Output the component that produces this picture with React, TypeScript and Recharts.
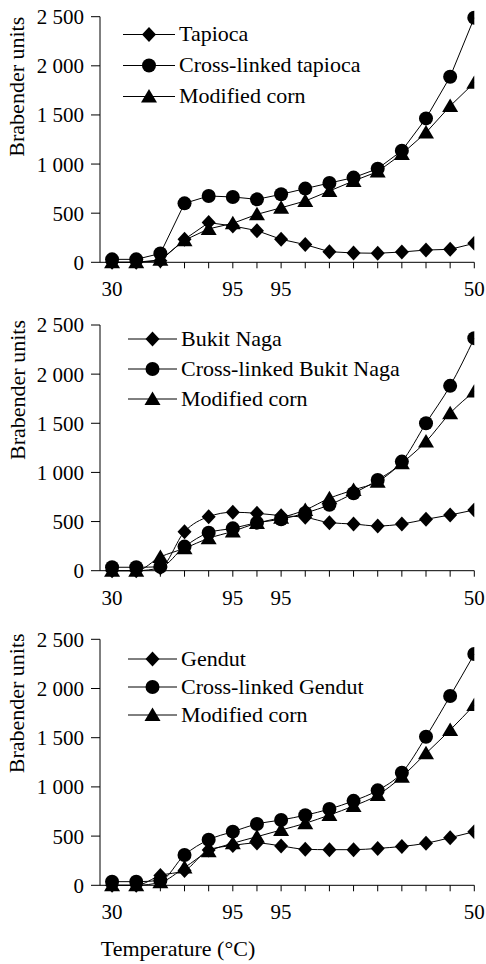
import { LineChart, Line, XAxis, YAxis, Legend, Label } from 'recharts';

const FONT = '"Liberation Serif", "Times New Roman", serif';

// x positions are reading indices; only four of them carry a printed label
const xTicks = [0, 1, 2, 3, 4, 5, 6, 7, 8, 9, 10, 11, 12, 13, 14, 15];
const xTickLabels = ['30', '', '', '', '', '95', '', '95', '', '', '', '', '', '', '', '50'];
const yTicks = [0, 500, 1000, 1500, 2000, 2500];

// panel 1
const tapioca = [0, 0, 15, 234, 404, 370, 322, 234, 180, 108, 95, 92, 105, 125, 132, 193];
const crossTapioca = [30, 30, 90, 600, 675, 665, 641, 692, 750, 807, 862, 953, 1136, 1465, 1889, 2490];
const cornA = [0, 0, 25, 225, 340, 397, 488, 555, 624, 726, 828, 923, 1103, 1320, 1591, 1828];

// panel 2
const bukitNaga = [0, 0, 30, 397, 550, 595, 584, 560, 543, 489, 475, 455, 475, 523, 567, 618];
const crossBukitNaga = [35, 35, 40, 245, 387, 431, 489, 523, 587, 670, 788, 924, 1110, 1501, 1881, 2366];
const cornB = [0, 0, 140, 228, 330, 400, 485, 540, 618, 737, 822, 906, 1094, 1314, 1603, 1823];

// panel 3
const gendut = [0, 0, 100, 150, 360, 405, 430, 400, 366, 362, 362, 375, 395, 427, 484, 545];
const crossGendut = [37, 37, 50, 308, 463, 545, 623, 664, 712, 775, 858, 965, 1144, 1510, 1924, 2350];
const cornC = [0, 0, 30, 180, 345, 427, 494, 562, 630, 714, 806, 917, 1104, 1341, 1578, 1832];

type Shape = 'diamond' | 'circle' | 'triangle';

function Marker({ shape, cx, cy }: { shape: Shape; cx?: number; cy?: number }) {
  if (cx == null || cy == null) return null;
  if (shape === 'circle') return <circle cx={cx} cy={cy} r={7} fill="#000" />;
  if (shape === 'diamond')
    return <polygon points={`${cx},${cy - 7.5} ${cx + 7},${cy} ${cx},${cy + 7.5} ${cx - 7},${cy}`} fill="#000" />;
  return <polygon points={`${cx},${cy - 7.5} ${cx + 8},${cy + 6} ${cx - 8},${cy + 6}`} fill="#000" />;
}

function thousands(v: number) {
  if (v < 1000) return String(v);
  return `${Math.floor(v / 1000)} ${String(v % 1000).padStart(3, '0')}`;
}

interface PanelProps {
  top: number;
  height: number;
  marginTop: number;
  marginBottom: number;
  names: string[];
  series: number[][];
  curve: 'linear' | 'monotone';
  legendTop: number;
  legendLeft: number;
  rowH: number;
  lineW: number;
  yLabelOffset: number;
  xLabel?: string;
}

const shapes: Shape[] = ['diamond', 'circle', 'triangle'];

function Panel(p: PanelProps) {
  const data = xTicks.map((i, k) => ({ i, a: p.series[0][k], b: p.series[1][k], c: p.series[2][k] }));
  const keys = ['a', 'b', 'c'];

  const legend = () => (
    <div style={{ fontFamily: FONT, fontSize: 22, color: '#000' }}>
      {p.names.map((name, k) => (
        <div key={name} style={{ display: 'flex', alignItems: 'center', height: p.rowH, whiteSpace: 'nowrap' }}>
          <svg width={p.lineW} height={p.rowH}>
            <line x1={0} x2={p.lineW} y1={p.rowH / 2} y2={p.rowH / 2} stroke="#000" strokeWidth={1} />
            <Marker shape={shapes[k]} cx={p.lineW / 2} cy={p.rowH / 2} />
          </svg>
          <span style={{ marginLeft: 4 }}>{name}</span>
        </div>
      ))}
    </div>
  );

  return (
    <div style={{ position: 'absolute', top: p.top, left: 0 }}>
      <LineChart
        width={486}
        height={p.height}
        data={data}
        margin={{ top: p.marginTop, right: 11.7, bottom: p.marginBottom, left: 0 }}
      >
        <XAxis
          type="number"
          dataKey="i"
          domain={[-0.5, 15]}
          ticks={xTicks}
          interval={0}
          allowDataOverflow
          tickFormatter={(v: number) => xTickLabels[v] ?? ''}
          height={40}
          tickSize={6}
          tickMargin={13}
          axisLine={{ stroke: '#000' }}
          tickLine={{ stroke: '#000' }}
          tick={{ fill: '#000', fontSize: 21, fontFamily: FONT }}
        >
          {p.xLabel && (
            <Label
              content={() => (
                <text x={178} y={p.height - 16} textAnchor="middle" dominantBaseline="central" fontSize={22} fontFamily={FONT} fill="#000">
                  {p.xLabel}
                </text>
              )}
            />
          )}
        </XAxis>
        <YAxis
          type="number"
          domain={[0, 2500]}
          ticks={yTicks}
          interval={0}
          width={100}
          tickSize={9}
          tickMargin={7}
          tickFormatter={thousands}
          axisLine={{ stroke: '#000' }}
          tickLine={{ stroke: '#000' }}
          tick={{ fill: '#000', fontSize: 21, fontFamily: FONT }}
        >
          <Label
            content={() => (
              <text
                x={17}
                y={p.marginTop + p.yLabelOffset}
                transform={`rotate(-90, 17, ${p.marginTop + p.yLabelOffset})`}
                textAnchor="middle"
                dominantBaseline="central"
                fontSize={22}
                fontFamily={FONT}
                fill="#000"
              >
                Brabender units
              </text>
            )}
          />
        </YAxis>
        <Legend
          layout="vertical"
          align="center"
          verticalAlign="middle"
          content={legend}
          wrapperStyle={{ top: p.legendTop, left: p.legendLeft, width: 'auto' }}
        />
        {keys.map((key, k) => (
          <Line
            key={key}
            type={p.curve}
            dataKey={key}
            name={p.names[k]}
            stroke="#000"
            strokeWidth={1}
            isAnimationActive={false}
            activeDot={false}
            dot={(d: any) => <Marker key={`${key}-${d.index}`} shape={shapes[k]} cx={d.cx} cy={d.cy} />}
          />
        ))}
      </LineChart>
    </div>
  );
}

export default function App() {
  return (
    <div style={{ position: 'absolute', top: 0, left: 0, width: 486, height: 964, background: '#fff' }}>
      <Panel
        top={0}
        height={310}
        marginTop={16.7}
        marginBottom={7.7}
        names={['Tapioca', 'Cross-linked tapioca', 'Modified corn']}
        series={[tapioca, crossTapioca, cornA]}
        curve="linear"
        legendTop={18.5}
        legendLeft={123}
        rowH={31}
        lineW={52}
        yLabelOffset={70}
      />
      <Panel
        top={310}
        height={314}
        marginTop={15}
        marginBottom={13.3}
        names={['Bukit Naga', 'Cross-linked Bukit Naga', 'Modified corn']}
        series={[bukitNaga, crossBukitNaga, cornB]}
        curve="monotone"
        legendTop={14}
        legendLeft={128}
        rowH={30}
        lineW={49}
        yLabelOffset={65}
      />
      <Panel
        top={624}
        height={340}
        marginTop={15.3}
        marginBottom={38.7}
        names={['Gendut', 'Cross-linked Gendut', 'Modified corn']}
        series={[gendut, crossGendut, cornC]}
        curve="monotone"
        legendTop={21}
        legendLeft={128}
        rowH={28}
        lineW={49}
        yLabelOffset={64}
        xLabel="Temperature (°C)"
      />
    </div>
  );
}
